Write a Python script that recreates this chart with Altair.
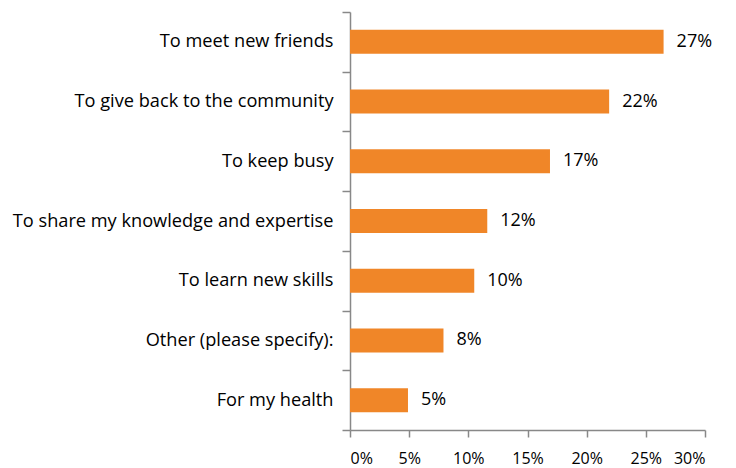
import altair as alt
import pandas as pd

categories = [
    "To meet new friends",
    "To give back to the community",
    "To keep busy",
    "To share my knowledge and expertise",
    "To learn new skills",
    "Other (please specify):",
    "For my health",
]
values = [26.5, 21.9, 16.9, 11.6, 10.5, 7.9, 4.9]
labels = ["27%", "22%", "17%", "12%", "10%", "8%", "5%"]
x_ticks = [0, 5, 10, 15, 20, 25, 30]

df = pd.DataFrame({"cat": categories, "val": values, "lab": labels})

FONT = "Open Sans"
AXIS_COLOR = "#888888"

y_enc = alt.Y(
    "cat:N",
    sort=categories,
    title=None,
    scale=alt.Scale(paddingInner=0, paddingOuter=0),
    axis=alt.Axis(
        tickBand="extent",
        domainColor=AXIS_COLOR,
        tickColor=AXIS_COLOR,
        tickSize=8,
        domainWidth=1.5,
        tickWidth=1.5,
        labelPadding=9,
        labelFont=FONT,
        labelFontSize=18.2,
        labelColor="#000000",
        labelLimit=400,
    ),
)

x_enc = alt.X(
    "val:Q",
    title=None,
    scale=alt.Scale(domain=[0, 30], nice=False),
    axis=alt.Axis(
        values=x_ticks,
        labelExpr="datum.value + '%'",
        grid=False,
        domainColor=AXIS_COLOR,
        tickColor=AXIS_COLOR,
        tickSize=7,
        domainWidth=1.5,
        tickWidth=1.5,
        labelPadding=13,
        labelFont=FONT,
        labelFontSize=16,
        labelColor="#000000",
    ),
)

bars = alt.Chart(df).mark_bar(color="#F08628", height=24).encode(x=x_enc, y=y_enc)

text = alt.Chart(df).mark_text(
    align="left", baseline="middle", dx=13, font=FONT, fontSize=18, color="#000000"
).encode(x="val:Q", y=alt.Y("cat:N", sort=categories), text="lab:N")

chart = (
    alt.layer(bars, text)
    .properties(
        width=355,
        height=418,
        autosize=alt.AutoSizeParams(type="none"),
        padding={"left": 342, "top": 4, "right": 20, "bottom": 38},
    )
    .configure_view(stroke=None)
)

chart.save("out.html", embed_options={"renderer": "svg", "actions": False})
